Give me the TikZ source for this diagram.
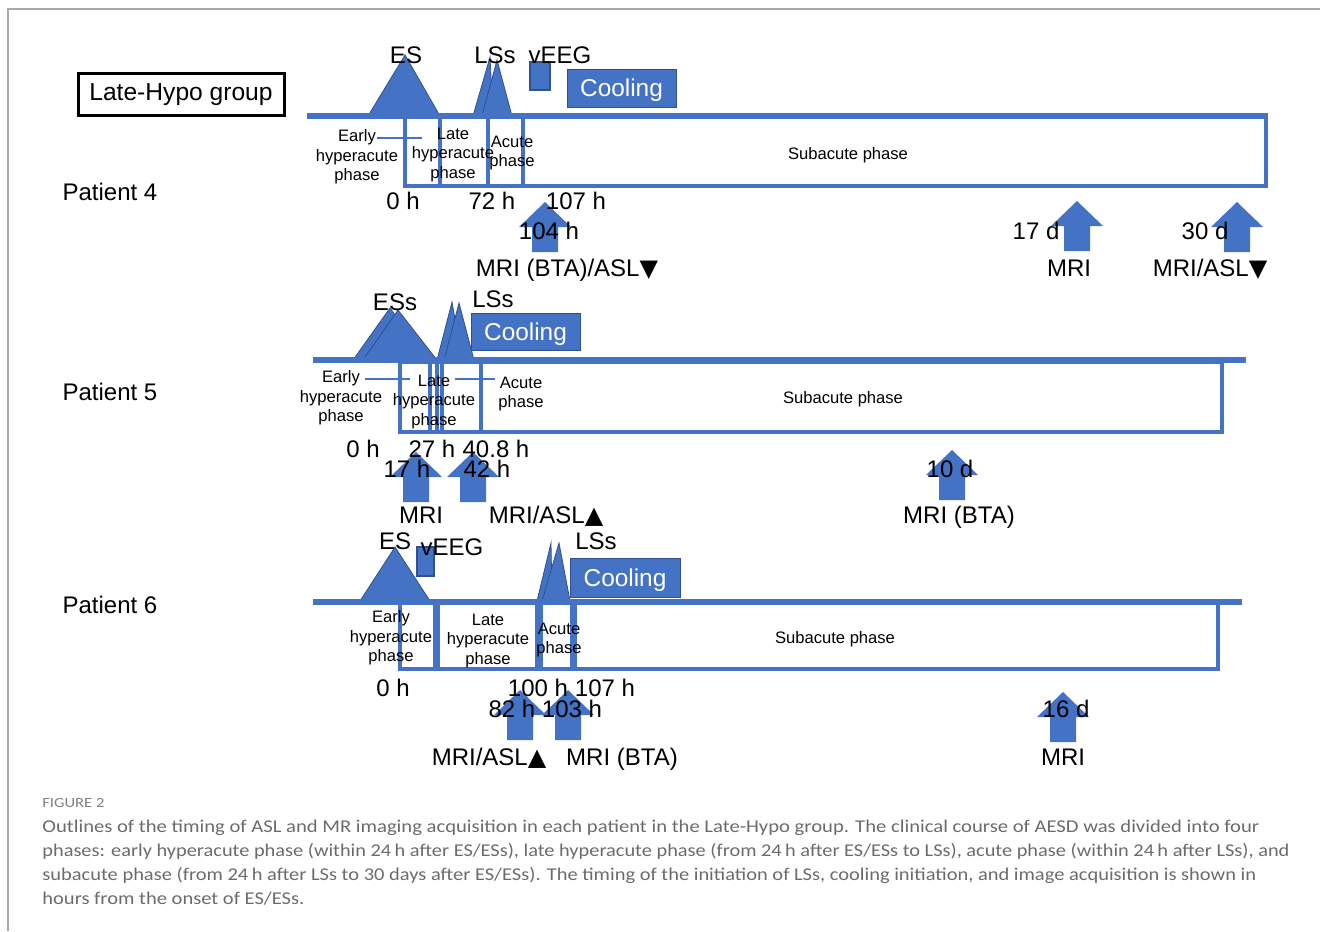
\documentclass[tikz,border=0pt]{standalone}
\usepackage{fontspec}
\setmainfont{Liberation Sans}
\newfontfamily\capfont{Carlito}
\newfontfamily\symfont{DejaVu Sans}
\definecolor{ofblue}{HTML}{4472C4}
\definecolor{ofdark}{HTML}{2F528F}
\definecolor{capgray}{HTML}{6B6B6B}
\definecolor{framegray}{HTML}{A8A8A8}
\tikzset{
  lbl/.style={font=\fontsize{12}{14}\selectfont, inner sep=0pt, anchor=base},
  small/.style={font=\fontsize{8.3}{9.8}\selectfont, inner sep=0pt, align=center},
  tri/.style={fill=ofblue, draw=ofdark, line width=0.4pt},
  timeline/.style={draw=ofblue, line width=3pt},
  phasebox/.style={draw=ofblue, line width=1.9pt},
  conn/.style={draw=ofblue, line width=0.8pt},
  coolbox/.style={fill=ofblue, draw=ofdark, line width=0.4pt, text=white, font=\fontsize{12.2}{14}\selectfont, inner sep=0pt},
  veeg/.style={fill=ofblue, draw=ofdark, line width=0.6pt},
  caption/.style={font=\capfont\fontsize{9}{11}\selectfont, text=capgray, inner sep=0pt, anchor=base west},
  blockup/.pic={\fill[ofblue] (0,0) -- (26,25) -- (13,25) -- (13,50) -- (-13,50) -- (-13,25) -- (-26,25) -- cycle;}
}
\newcommand{\dn}{{\symfont\char"25BC}}
\newcommand{\up}{{\symfont\char"25B2}}
\begin{document}
\begin{tikzpicture}[x=0.5pt,y=-0.5pt]
\useasboundingbox (0,0) rectangle (1320,931);
% frame
\draw[framegray, line width=1pt] (8,931) -- (8,9) -- (1320,9);

% ---------- Patient 4 ----------
\node[draw=black, line width=1.5pt, minimum width=103pt, minimum height=20.5pt, font=\fontsize{12.3}{14}\selectfont, inner sep=0pt] (grp) at (181,94.5) {Late-Hypo group};
\fill[tri] (405,55) -- (368,116) -- (440,116) -- cycle;
\fill[tri] (490,57) -- (473,116) -- (493,116) -- cycle;
\fill[tri] (497,60) -- (482,116) -- (512,116) -- cycle;
\filldraw[veeg] (530,62) rectangle (550,90);
\filldraw[fill=ofblue, draw=ofdark, line width=0.4pt] (567,69) rectangle (676,107);
\node[coolbox, fill=none, draw=none] (cool4) at (621.5,90) {Cooling};
\draw[phasebox] (405,117) rectangle (440,186);
\draw[phasebox] (440,117) rectangle (488,186);
\draw[phasebox] (488,117) rectangle (523,186);
\draw[phasebox] (523,117) rectangle (1266,186);
\draw[timeline] (307,116) -- (1268,116);
\coordinate (c4a) at (377,138); \coordinate (c4b) at (422,138);
\draw[conn] (c4a) -- (c4b);
\pic at (545,202) {blockup};
\pic at (1077,201) {blockup};
\pic at (1237,202) {blockup};
\node[lbl] (es4) at (406,64) {ES};
\node[lbl] (ls4) at (495,64) {LSs};
\node[lbl] (ve4) at (560,64) {vEEG};
\node[lbl] (p4) at (110,200) {Patient 4};
\node[lbl] (t40) at (403,209) {0 h};
\node[lbl] (t41) at (492,209) {72 h};
\node[lbl] (t42) at (576,209) {107 h};
\node[lbl] (t43) at (549,239) {104 h};
\node[lbl] (t44) at (1036,239) {17 d};
\node[lbl] (t45) at (1205,239) {30 d};
\node[lbl] (m41) at (567,276) {MRI (BTA)/ASL\dn};
\node[lbl] (m42) at (1069,276) {MRI};
\node[lbl] (m43) at (1210,276) {MRI/ASL\dn};
\node[small] (e4) at (357,157) {Early\\hyperacute\\phase};
\node[small] (l4) at (453,155) {Late\\hyperacute\\phase};
\node[small] (a4) at (512,153) {Acute\\phase};
\node[small] (s4) at (848,155) {Subacute phase};

% ---------- Patient 5 ----------
\fill[tri] (390,308) -- (353,360) -- (427,360) -- cycle;
\fill[tri] (398,310) -- (363,360) -- (437,360) -- cycle;
\fill[tri] (452,302) -- (437,360) -- (462,360) -- cycle;
\fill[tri] (459,303) -- (444,360) -- (474,360) -- cycle;
\filldraw[fill=ofblue, draw=ofdark, line width=0.4pt] (471,313) rectangle (580,350);
\node[coolbox, fill=none, draw=none] (cool5) at (525.5,334) {Cooling};
\draw[phasebox] (400,362) rectangle (437,432);
\draw[phasebox] (430,362) rectangle (442,432);
\draw[phasebox] (442,362) rectangle (481,432);
\draw[phasebox] (481,362) rectangle (1222,432);
\draw[timeline] (313,360) -- (1246,360);
\coordinate (c5a) at (365,379); \coordinate (c5b) at (410,379);
\coordinate (c5c) at (455,379); \coordinate (c5d) at (495,379);
\draw[conn] (c5a) -- (c5b);
\draw[conn] (c5c) -- (c5d);
\pic at (416,452) {blockup};
\pic at (473,452) {blockup};
\pic at (952,450) {blockup};
\node[lbl] (es5) at (395,310) {ESs};
\node[lbl] (ls5) at (493,307) {LSs};
\node[lbl] (p5) at (110,400) {Patient 5};
\node[lbl] (t50) at (363,457) {0 h};
\node[lbl] (t51) at (432,457) {27 h};
\node[lbl] (t52) at (496,457) {40.8 h};
\node[lbl] (t53) at (407,477) {17 h};
\node[lbl] (t54) at (487,477) {42 h};
\node[lbl] (t55) at (950,477) {10 d};
\node[lbl] (m51) at (421,523) {MRI};
\node[lbl] (m52) at (546,523) {MRI/ASL\up};
\node[lbl] (m53) at (959,523) {MRI (BTA)};
\node[small] (e5) at (341,398) {Early\\hyperacute\\phase};
\node[small] (l5) at (434,402) {Late\\hyperacute\\phase};
\node[small] (a5) at (521,394) {Acute\\phase};
\node[small] (s5) at (843,399) {Subacute phase};

% ---------- Patient 6 ----------
\fill[tri] (395,547) -- (360,601) -- (430,601) -- cycle;
\filldraw[veeg] (417,547) rectangle (434,576);
\fill[tri] (551,543) -- (537,601) -- (552,601) -- cycle;
\fill[tri] (559,543) -- (542,601) -- (570,601) -- cycle;
\filldraw[fill=ofblue, draw=ofdark, line width=0.4pt] (570,558) rectangle (680,597);
\node[coolbox, fill=none, draw=none] (cool6) at (625,580) {Cooling};
\draw[phasebox] (400,603) rectangle (435,669);
\draw[phasebox] (438,603) rectangle (537,669);
\draw[phasebox] (541,603) rectangle (572,669);
\draw[phasebox] (575,603) rectangle (1218,669);
\draw[timeline] (313,602) -- (1242,602);
\pic at (520,690) {blockup};
\pic at (568,690) {blockup};
\pic at (1063,692) {blockup};
\node[lbl] (es6) at (395,549) {ES};
\node[lbl] (ve6) at (452,555) {vEEG};
\node[lbl] (ls6) at (596,549) {LSs};
\node[lbl] (p6) at (110,613) {Patient 6};
\node[lbl] (t60) at (393,696) {0 h};
\node[lbl] (t61) at (538,696) {100 h};
\node[lbl] (t62) at (605,696) {107 h};
\node[lbl] (t63) at (512,717) {82 h};
\node[lbl] (t64) at (572,717) {103 h};
\node[lbl] (t65) at (1066,717) {16 d};
\node[lbl] (m61) at (489,765) {MRI/ASL\up};
\node[lbl] (m62) at (622,765) {MRI (BTA)};
\node[lbl] (m63) at (1063,765) {MRI};
\node[small] (e6) at (391,638) {Early\\hyperacute\\phase};
\node[small] (l6) at (488,641) {Late\\hyperacute\\phase};
\node[small] (a6) at (559,640) {Acute\\phase};
\node[small] (s6) at (835,639) {Subacute phase};

% ---------- Caption ----------
\node[caption, font=\capfont\fontsize{7}{9}\selectfont, text=gray] (fig) at (42,807) {\resizebox{31pt}{\height}{FIGURE 2}};
\node[caption] (cap1) at (42,832) {\resizebox{608.5pt}{\height}{Outlines of the timing of ASL and MR imaging acquisition in each patient in the Late-Hypo group. The clinical course of AESD was divided into four}};
\node[caption] (cap2) at (42,856) {\resizebox{623.5pt}{\height}{phases: early hyperacute phase (within 24\,h after ES/ESs), late hyperacute phase (from 24\,h after ES/ESs to LSs), acute phase (within 24\,h after LSs), and}};
\node[caption] (cap3) at (42,880) {\resizebox{607pt}{\height}{subacute phase (from 24\,h after LSs to 30 days after ES/ESs). The timing of the initiation of LSs, cooling initiation, and image acquisition is shown in}};
\node[caption] (cap4) at (42,904) {\resizebox{131pt}{\height}{hours from the onset of ES/ESs.}};
\end{tikzpicture}
\end{document}
